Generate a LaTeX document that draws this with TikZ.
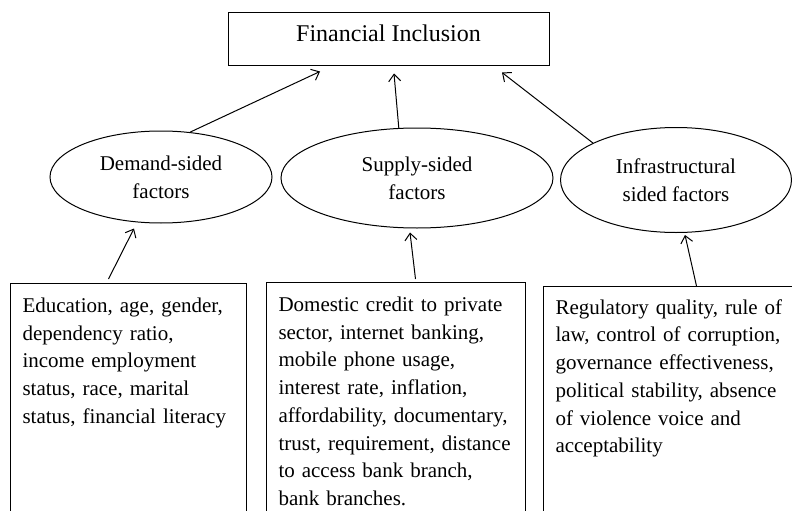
\documentclass[tikz,border=0pt]{standalone}
\usepackage{fontspec}
\setmainfont{Liberation Serif}
\usetikzlibrary{shapes.geometric,arrows.meta}

\tikzset{
  oval/.style={draw,ellipse,line width=1pt,inner sep=0pt,align=center,
    font=\fontsize{21}{27.7}\selectfont},
  factorbox/.style={draw,rectangle,line width=1pt,anchor=north west,align=left,
    inner xsep=12pt,inner ysep=14.5pt,text depth=230pt,
    font=\fontsize{21}{27.7}\selectfont},
  link/.style={->,>={Straight Barb[length=7pt,width=12pt]},line width=1pt}
}

\begin{document}
\begin{tikzpicture}[x=1pt,y=-1pt]
\useasboundingbox (0,0) rectangle (792,511);
\clip (0,0) rectangle (792,511);

\node[draw,line width=1pt,minimum width=321pt,inner ysep=0pt,text height=29pt,text depth=24pt,
  font=\fontsize{24}{28}\selectfont] (fi) at (388.5,39.5) {Financial Inclusion};

% the three groups of factors
\node[oval,minimum width=222pt,minimum height=92pt] (dem) at (161,177) {Demand-sided\\factors};
\node[oval,minimum width=272pt,minimum height=100pt] (sup) at (417,178) {Supply-sided\\factors};
\node[oval,minimum width=231pt,minimum height=105pt] (inf) at (676,180) {Infrastructural\\sided factors};

\draw[link] (dem.57) -- ([xshift=-68.5pt,yshift=-5pt]fi.south);
\draw[link] (sup.110) -- ([xshift=5.5pt,yshift=-7pt]fi.south);
\draw[link] (inf.156) -- ([xshift=113.5pt,yshift=-6pt]fi.south);

% lists of variables
\node[factorbox,text width=212pt] (dvar) at (10,283) {Education, age, gender,\\dependency ratio,\\income employment\\status, race, marital\\status, financial literacy};

\node[factorbox,text width=235pt] (svar) at (266,282) {Domestic credit to private\\sector, internet banking,\\mobile phone usage,\\interest rate, inflation,\\affordability, documentary,\\trust, requirement, distance\\to access bank branch,\\bank branches.};

\node[factorbox,text width=236pt,inner ysep=13pt] (ivar) at (543,286) {Regulatory quality, rule of\\law, control of corruption,\\governance effectiveness,\\political stability, absence\\of violence voice and\\acceptability};

\draw[link] ([xshift=-20pt,yshift=4pt]dvar.north) -- ([xshift=-27pt,yshift=-5pt]dem.south);
\draw[link] ([xshift=19.5pt,yshift=3pt]svar.north) -- ([xshift=-7pt,yshift=-4pt]sup.south);
\draw[link] ([xshift=23pt]ivar.north) -- ([xshift=9pt,yshift=-2pt]inf.south);

\end{tikzpicture}
\end{document}
